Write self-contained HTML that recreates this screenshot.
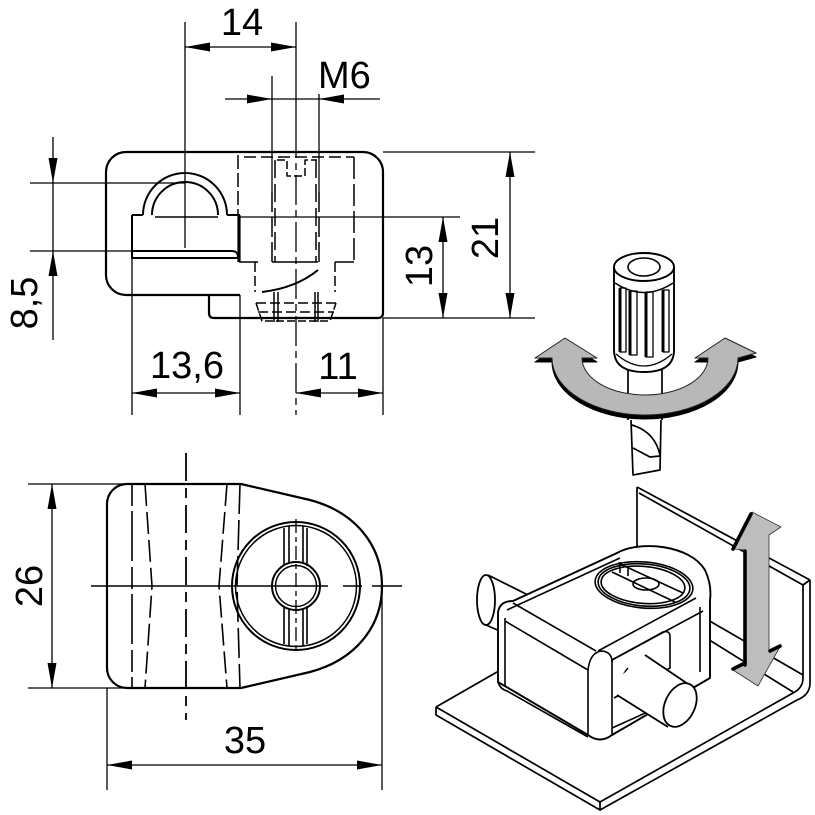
<!DOCTYPE html>
<html><head><meta charset="utf-8">
<style>
html,body{margin:0;padding:0;background:#fff;}
svg{display:block;}
text{font-family:"Liberation Sans",Arial,sans-serif;font-size:38px;fill:#000;}
</style></head><body>
<svg width="815" height="815" viewBox="0 0 815 815" xmlns="http://www.w3.org/2000/svg">
<g fill="none" stroke="#000" stroke-linecap="butt" stroke-linejoin="round">

<!-- ============ TOP-LEFT SIDE VIEW ============ -->
<!-- dimension / extension lines -->
<g stroke-width="1.3">
  <line x1="185" y1="22" x2="185" y2="248"/>
  <line x1="296" y1="22" x2="296" y2="128"/>
  <line x1="185" y1="47" x2="296" y2="47"/>
  <line x1="225" y1="99" x2="380" y2="99"/>
  <line x1="272" y1="76" x2="272" y2="192"/>
  <line x1="319" y1="94" x2="319" y2="192"/>
  <line x1="30" y1="183" x2="185" y2="183"/>
  <line x1="30" y1="251" x2="132" y2="251"/>
  <line x1="53" y1="137" x2="53" y2="340"/>
  <line x1="132" y1="258" x2="132" y2="415"/>
  <line x1="240" y1="295" x2="240" y2="415"/>
  <line x1="383" y1="318" x2="383" y2="415"/>
  <line x1="132" y1="393" x2="240" y2="393"/>
  <line x1="296" y1="393" x2="383" y2="393"/>
  <line x1="383" y1="152" x2="535" y2="152"/>
  <line x1="383" y1="318" x2="535" y2="318"/>
  <line x1="240" y1="217" x2="460" y2="217"/>
  <line x1="510" y1="152" x2="510" y2="318"/>
  <line x1="443" y1="217" x2="443" y2="318"/>
</g>
<!-- centre line -->
<line x1="296" y1="128" x2="296" y2="415" stroke-width="1.3" stroke-dasharray="30 5 7 5"/>

<!-- body outline -->
<path d="M126 152 L363 152 A20 20 0 0 1 383 172 L383 313 Q383 318 378 318 L214 318 Q209 318 209 313 L209 295" stroke-width="2.2"/>
<path d="M240 295 L126 295 A20 20 0 0 1 106 275 L106 172 A20 20 0 0 1 126 152" stroke-width="2.2"/>
<!-- pin / arch -->
<path d="M143 215 A42 42 0 0 1 227 215" stroke-width="2"/>
<path d="M152 215 A33 33 0 0 1 218 215" stroke-width="2"/>
<path d="M132 215 L143 215 M227 215 L240 215" stroke-width="2"/>
<line x1="155" y1="217" x2="218" y2="217" stroke-width="1.5"/>
<path d="M132 215 L132 258 L240 258" stroke-width="2"/>
<path d="M132 251 L232 251 Q238 251 238 257" stroke-width="2"/>
<line x1="239" y1="215" x2="239" y2="262" stroke-width="3.2"/>
<!-- insert hidden lines -->
<g stroke-width="1.5">
  <line x1="238" y1="155" x2="238" y2="215" stroke-dasharray="14 4"/>
  <line x1="244" y1="157" x2="354" y2="157" stroke-dasharray="12 5"/>
  <line x1="354" y1="157" x2="354" y2="262" stroke-dasharray="22 5"/>
  <line x1="272" y1="192" x2="272" y2="262" stroke-dasharray="20 5"/>
  <line x1="319" y1="192" x2="319" y2="262" stroke-dasharray="20 5"/>
  <line x1="275" y1="160" x2="275" y2="262" stroke-dasharray="18 6"/>
  <line x1="316" y1="160" x2="316" y2="262" stroke-dasharray="18 6"/>
  <path d="M277 160 L287 160 L287 176 L305 176 L305 160 L317 160" stroke-dasharray="8 3"/>
  <path d="M239 262 L258 262 M272 262 L318 262 M335 262 L354 262"/>
  <line x1="255" y1="262" x2="255" y2="292" stroke-dasharray="10 4"/>
  <line x1="335" y1="262" x2="335" y2="292" stroke-dasharray="10 4"/>
  <path d="M318 270 Q296 288 262 292" stroke-width="2"/>
  <path d="M256 303 L262 321 L330 321 L336 303" stroke-dasharray="8 3"/>
  <line x1="256" y1="303" x2="336" y2="303" stroke-dasharray="10 4"/>
  <line x1="258" y1="312" x2="334" y2="312" stroke-dasharray="10 4"/>
  <line x1="274" y1="292" x2="274" y2="322"/>
  <line x1="278" y1="292" x2="278" y2="322"/>
  <line x1="315" y1="292" x2="315" y2="322"/>
  <line x1="318" y1="292" x2="318" y2="322"/>
</g>

<!-- ============ BOTTOM-LEFT PLAN VIEW ============ -->
<g stroke-width="1.3">
  <line x1="28" y1="484" x2="126" y2="484"/>
  <line x1="28" y1="688" x2="126" y2="688"/>
  <line x1="52" y1="484" x2="52" y2="688"/>
  <line x1="107" y1="688" x2="107" y2="790"/>
  <line x1="382" y1="590" x2="382" y2="790"/>
  <line x1="107" y1="765" x2="382" y2="765"/>
</g>
<path d="M126 484 L241 484 L310 500 C355 512 382 545 382 586 C382 627 355 660 310 672 L241 688 L127 688 A20 20 0 0 1 107 668 L107 504 A20 20 0 0 1 127 484 Z" stroke-width="2.2"/>
<g stroke-width="1.6">
  <line x1="132" y1="484" x2="132" y2="688" stroke-dasharray="22 5 50 6"/>
  <path d="M145 484 L152 586 L145 688" stroke-dasharray="22 6"/>
  <path d="M227 484 L219 586 L227 688" stroke-dasharray="22 6"/>
  <path d="M240 484 L237 586 L240 688" stroke-dasharray="30 6"/>
</g>
<line x1="186" y1="453" x2="186" y2="720" stroke-width="1.8" stroke-dasharray="28 7 10 7"/>
<path d="M91 586 L328 586 M343 586 L362 586 M372 586 L402 586" stroke-width="1.5"/>
<circle cx="296" cy="586" r="64" stroke-width="2"/>
<circle cx="296" cy="586" r="60.5" stroke-width="1.5"/>
<circle cx="296" cy="586" r="24" stroke-width="2"/>
<circle cx="296" cy="586" r="20.5" stroke-width="1.5"/>
<g stroke-width="1.6">
  <path d="M284 528 L284 566 M289 526 L289 564 M303 526 L303 564 M307 528 L307 566"/>
  <path d="M284 606 L284 644 M289 608 L289 646 M303 608 L303 646 M307 606 L307 644"/>
</g>
<line x1="296" y1="519" x2="296" y2="653" stroke-width="1.3" stroke-dasharray="14 4 5 4"/>

<!-- ============ ISOMETRIC: BRACKET ============ -->
<g stroke-width="1.7">
  <!-- base plate -->
  <path d="M436 707 L600 802 L793 693 Q803 688 803 678 L803 585"/>
  <path d="M436 707 L436 715 L600 810 L797 700 Q810 695 810 683 L810 580"/>
  <line x1="600" y1="802" x2="600" y2="810"/>
  <line x1="436" y1="707" x2="640" y2="590"/>
  <!-- wall -->
  <line x1="637" y1="487" x2="637" y2="590"/>
  <line x1="637" y1="487" x2="810" y2="580"/>
  <line x1="639" y1="493" x2="803" y2="585"/>
  <line x1="803" y1="585" x2="810" y2="580"/>
  <line x1="637" y1="579" x2="803" y2="675"/>
  <line x1="637" y1="595" x2="793" y2="692"/>
</g>

<!-- vertical double arrow -->
<polygon points="752,512 781,527 769,535 769,650 781,645 758,686 733,670 746,664 746,550 733,549" fill="#bdbdbd" stroke="#333" stroke-width="0.8"/>
<g stroke="#000" stroke-width="3.6" stroke-linecap="round">
  <line x1="733" y1="549" x2="751" y2="514"/>
  <line x1="745" y1="551" x2="745" y2="665"/>
  <line x1="733" y1="669" x2="745" y2="663"/>
  <line x1="770" y1="651" x2="780" y2="646"/>
</g>

<!-- left pin -->
<path d="M488 575 L532 597 L532 632 L486 625 Z" fill="#fff" stroke="none"/>
<path d="M488 575 L532 597 M486 625 L502 632" stroke-width="1.7"/>
<ellipse cx="486" cy="600" rx="9" ry="25" fill="#fff" stroke-width="1.8"/>

<!-- body -->
<path d="M498 682 L498 613 Q499 601 513 601 L617 553 C640 540 690 545 705 570 Q712 585 710 600 L710 678 L612 735 Q600 744 588 735 Z" fill="#fff" stroke-width="1.9"/>
<g stroke-width="1.6">
  <line x1="505" y1="618" x2="505" y2="686"/>
  <line x1="513" y1="603" x2="596" y2="651"/>
  <line x1="505" y1="621" x2="588" y2="670"/>
  <line x1="507" y1="610" x2="620" y2="558"/>
  <line x1="588" y1="670" x2="588" y2="735"/>
  <line x1="612" y1="660" x2="612" y2="735"/>
  <path d="M588 670 Q590 652 602 651 Q612 652 612 662"/>
  <path d="M498 682 Q500 689 507 691 L588 737"/>
  <line x1="598" y1="651" x2="696" y2="598"/>
  <line x1="612" y1="660" x2="703" y2="611"/>
  <line x1="700" y1="607" x2="700" y2="672"/>
  <line x1="612" y1="728" x2="652" y2="710"/>
  <path d="M612 660 L663 632 Q670 630 670 637 L670 668 L614 698"/>
  <path d="M628 668 Q617 680 626 696"/>
</g>
<!-- insert top -->
<g transform="rotate(5 644 585)" stroke-width="1.6">
  <ellipse cx="644" cy="585" rx="49" ry="23"/>
  <ellipse cx="644" cy="585" rx="46" ry="21"/>
  <ellipse cx="643" cy="585" rx="42" ry="18.5"/>
</g>
<g stroke-width="1.6">
  <path d="M618 563 L683 593 M612 572 L675 602"/>
  <path d="M620 562 L620 573 M628 566 L628 576"/>
  <ellipse cx="646" cy="584" rx="13" ry="6"/>
</g>

<!-- right pin -->
<path d="M645 655 L690 683 L668 727 L617 695 L622 675 Z" fill="#fff" stroke="none"/>
<path d="M645 655 L688 684 M617 695 L668 727" stroke-width="1.8"/>
<ellipse cx="680" cy="705" rx="15" ry="23" transform="rotate(25 680 705)" fill="#fff" stroke-width="1.8"/>

<!-- ============ SCREWDRIVER + ROTATION ARROW ============ -->
<g stroke-width="1.7">
  <line x1="628" y1="368" x2="628" y2="420"/>
  <line x1="662" y1="368" x2="662" y2="420"/>
  <path d="M631 420 L633 475 L660 470 L661 420"/>
  <path d="M632 425 Q655 432 660 455"/>
  <path d="M633 448 L650 457 L660 456"/>
</g>
<path d="M614 267 L614 350 Q614 372 644 372 Q674 372 674 350 L674 267" fill="#fff" stroke-width="1.9"/>
<path d="M615 283 Q644 302 673 283" stroke-width="1.5"/>
<path d="M616 354 Q644 378 672 354" stroke-width="1.3"/>
<ellipse cx="644" cy="267" rx="30" ry="14" fill="#fff" stroke-width="1.9"/>
<ellipse cx="644" cy="267" rx="16" ry="9" stroke-width="1.6"/>
<g stroke-width="1.3">
  <rect x="620" y="288" width="6" height="64"/>
  <rect x="630" y="291" width="7" height="64"/>
  <rect x="646" y="292" width="7" height="65"/>
  <rect x="663" y="290" width="6" height="62"/>
</g>
<g stroke-width="3">
  <line x1="620" y1="288" x2="620" y2="352"/>
  <line x1="630" y1="291" x2="630" y2="355"/>
  <line x1="646" y1="292" x2="646" y2="357"/>
  <line x1="663" y1="290" x2="663" y2="352"/>
</g>
<!-- rotation band -->
<g transform="translate(0,4)">
  <path d="M552 358 L535 358 L565 338 L597 358 L582 358 A63 37 0 0 0 708 358 L695 358 L725 338 L756 353 L738 358 A93 57 0 0 1 552 358 Z" fill="#000" stroke="#000" stroke-width="1"/>
</g>
<path d="M552 358 L535 358 L565 338 L597 358 L582 358 A63 37 0 0 0 708 358 L695 358 L725 338 L756 353 L738 358 A93 57 0 0 1 552 358 Z" fill="#b8b8b8" stroke="#222" stroke-width="1"/>
</g>

<!-- ============ TEXT + ARROWHEADS ============ -->
<g fill="#000" stroke="none">
  <polygon points="185,47 210,42.5 210,51.5"/>
  <polygon points="296,47 271,42.5 271,51.5"/>
  <polygon points="272,99 247,94.5 247,103.5"/>
  <polygon points="319,99 344,94.5 344,103.5"/>
  <polygon points="53,183 48.5,158 57.5,158"/>
  <polygon points="53,251 48.5,276 57.5,276"/>
  <polygon points="132,393 157,388.5 157,397.5"/>
  <polygon points="240,393 215,388.5 215,397.5"/>
  <polygon points="296,393 321,388.5 321,397.5"/>
  <polygon points="383,393 358,388.5 358,397.5"/>
  <polygon points="510,152 505.5,177 514.5,177"/>
  <polygon points="510,318 505.5,293 514.5,293"/>
  <polygon points="443,217 438.5,242 447.5,242"/>
  <polygon points="443,318 438.5,293 447.5,293"/>
  <polygon points="52,484 47.5,509 56.5,509"/>
  <polygon points="52,688 47.5,663 56.5,663"/>
  <polygon points="107,765 132,760.5 132,769.5"/>
  <polygon points="382,765 357,760.5 357,769.5"/>
</g>
<text x="242" y="35" text-anchor="middle">14</text>
<text x="318" y="88">M6</text>
<text x="187" y="378" text-anchor="middle">13,6</text>
<text x="338" y="379" text-anchor="middle">11</text>
<text x="245" y="753" text-anchor="middle">35</text>
<text transform="translate(498,238) rotate(-90)" text-anchor="middle">21</text>
<text transform="translate(432,266) rotate(-90)" text-anchor="middle">13</text>
<text transform="translate(37,303) rotate(-90)" text-anchor="middle">8,5</text>
<text transform="translate(42,586) rotate(-90)" text-anchor="middle">26</text>
</svg>
</body></html>
